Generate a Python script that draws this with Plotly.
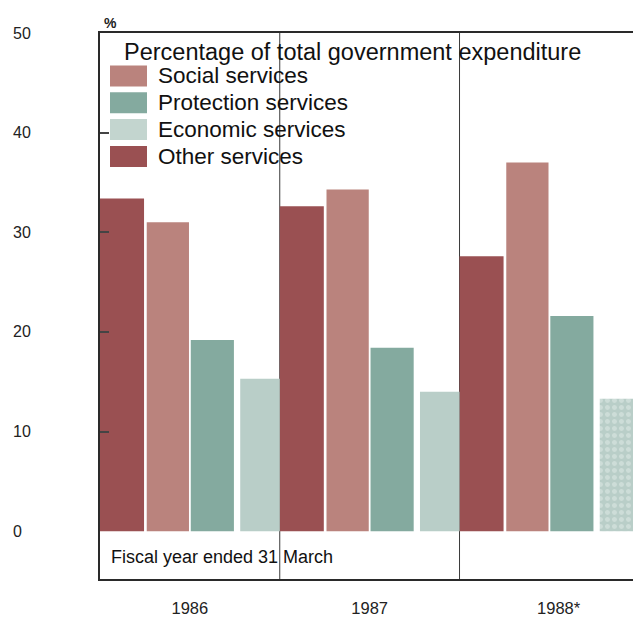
import plotly.graph_objects as go

# Fiscal years (ended 31 March) and share of total government expenditure, %
years = ["1986", "1987", "1988*"]
other_services = [33.4, 32.6, 27.6]
social_services = [31.0, 34.3, 37.0]
protection_services = [19.2, 18.4, 21.6]
economic_services = [15.3, 14.0, 13.3]

y_ticks = [0, 10, 20, 30, 40, 50]

FONT = "Liberation Sans, Arial, Helvetica, sans-serif"
C_OTHER = "#9a5052"
C_SOCIAL = "#ba837d"
C_PROT = "#84aa9f"
C_ECON = "#b9cec8"

# bars are drawn in this order inside every year group
series = [
    ("Other services", other_services, C_OTHER, -0.50, 0.245),
    ("Social services", social_services, C_SOCIAL, -0.24, 0.235),
    ("Protection services", protection_services, C_PROT, 0.005, 0.24),
    ("Economic services", economic_services, C_ECON, 0.28, 0.22),
]

fig = go.Figure()
for name, vals, color, off, w in series:
    marker = dict(color=color, line=dict(width=0))
    if name == "Economic services":
        # mottled print texture on the estimated year
        marker["pattern"] = dict(
            shape=["", "", "."], fgcolor="#e2ebe7", bgcolor=color,
            size=7, solidity=0.4, fillmode="overlay",
        )
    fig.add_trace(go.Bar(
        x=years, y=vals, name=name, offset=off, width=w,
        marker=marker, showlegend=False, hoverinfo="x+y+name",
    ))

# year dividers behind the bars
for b in [0.5, 1.5]:
    fig.add_shape(type="line", xref="x", yref="paper", x0=b, x1=b, y0=0, y1=1,
                  line=dict(color="#3a3a3a", width=1), layer="below")

annotations = []
# y tick labels, left aligned at the page edge
for t in y_ticks:
    annotations.append(dict(
        x=-0.167, xref="paper", y=t, yref="y", text=str(t), showarrow=False,
        xanchor="left", yanchor="middle", font=dict(family=FONT, size=16, color="#222"),
    ))
annotations.append(dict(
    x=0.004, xref="paper", y=1.0, yref="paper", text="<b>%</b>", showarrow=False,
    xanchor="left", yanchor="bottom", font=dict(family=FONT, size=14, color="#222"),
))
annotations.append(dict(
    x=0.017, xref="paper", y=-2.6, yref="y", text="Fiscal year ended 31 March",
    showarrow=False, xanchor="left", yanchor="middle",
    font=dict(family=FONT, size=18, color="#111"),
))

# legend block drawn by hand (wide swatches)
annotations.append(dict(
    x=0.042, xref="paper", y=0.965, yref="paper",
    text="Percentage of total government expenditure", showarrow=False,
    xanchor="left", yanchor="middle", font=dict(family=FONT, size=23.5, color="#111"),
))
legend_items = [
    ("Social services", C_SOCIAL),
    ("Protection services", C_PROT),
    ("Economic services", "#c3d5cf"),
    ("Other services", C_OTHER),
]
row_h = 26.8 / 546
first_row = 1 - 43 / 546
for i, (label, color) in enumerate(legend_items):
    yc = first_row - i * row_h
    fig.add_shape(type="rect", xref="paper", yref="paper",
                  x0=10 / 533, x1=47 / 533, y0=yc - 10.5 / 546, y1=yc + 10.5 / 546,
                  fillcolor=color, line=dict(width=0), layer="above")
    annotations.append(dict(
        x=0.106, xref="paper", y=yc, yref="paper", text=label, showarrow=False,
        xanchor="left", yanchor="middle", font=dict(family=FONT, size=22.5, color="#111"),
    ))

fig.update_layout(
    width=633, height=617, autosize=False,
    margin=dict(l=100, r=0, t=33, b=38),
    paper_bgcolor="white", plot_bgcolor="white",
    barmode="overlay",
    annotations=annotations,
    xaxis=dict(
        type="category", range=[-0.5, 2.465],
        tickvals=years, ticktext=["1986", "1987", "\u2007\u20071988*"],
        showline=True, linecolor="#2a2a2a", linewidth=2, mirror=True,
        ticks="", showgrid=False, zeroline=False,
        ticklabelstandoff=13,
        tickfont=dict(family=FONT, size=16.5, color="#222"),
    ),
    yaxis=dict(
        range=[-4.8, 50], tickvals=y_ticks[1:], showticklabels=False,
        ticks="inside", ticklen=9, tickwidth=1.5, tickcolor="#444",
        showline=True, linecolor="#2a2a2a", linewidth=1.5,
        showgrid=False, zeroline=False,
    ),
    yaxis2=dict(
        range=[-4.8, 50], overlaying="y", side="right", anchor="x",
        tickvals=y_ticks[1:], showticklabels=False,
        ticks="inside", ticklen=6, tickwidth=1.5, tickcolor="#444",
        showline=False, showgrid=False, zeroline=False,
    ),
)

fig.write_html("out.html")
